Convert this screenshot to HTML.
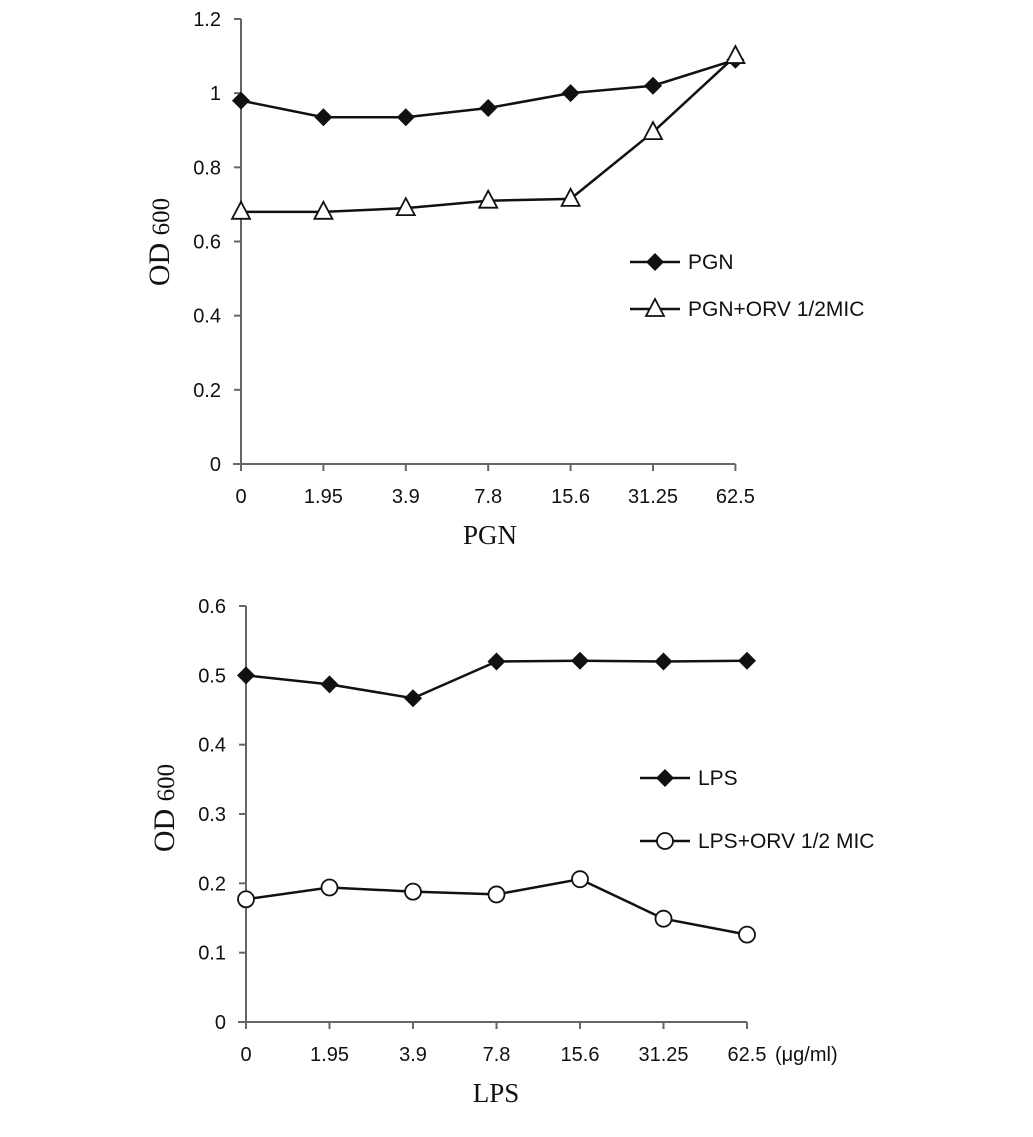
<!DOCTYPE html>
<html><head><meta charset="utf-8"><style>
body{margin:0;background:#fff}
svg text{font-family:"Liberation Sans",sans-serif;fill:#111}
.serif{font-family:"Liberation Serif",serif !important}
</style></head><body>
<svg id="c" width="1033" height="1132" xmlns="http://www.w3.org/2000/svg"></svg>
<script>
const categories=["0","1.95","3.9","7.8","15.6","31.25","62.5"];
const pgnValues=[0.98,0.935,0.935,0.96,1.0,1.02,1.09];
const pgnOrvValues=[0.68,0.68,0.69,0.71,0.715,0.895,1.10];
const topTicks=["0","0.2","0.4","0.6","0.8","1","1.2"];
const lpsValues=[0.50,0.487,0.467,0.52,0.521,0.52,0.521];
const lpsOrvValues=[0.177,0.194,0.188,0.184,0.206,0.149,0.126];
const botTicks=["0","0.1","0.2","0.3","0.4","0.5","0.6"];
const svg=document.getElementById('c');
const NS="http://www.w3.org/2000/svg";
function mk(t,a,p){const e=document.createElementNS(NS,t);for(const k in a)e.setAttribute(k,a[k]);(p||svg).appendChild(e);return e;}
function panel(cfg){
  const g=mk('g',{});
  
  
  const xs=i=>cfg.x0+i*cfg.dx;
  const ys=v=>cfg.y0-(v/cfg.ymax)*(cfg.y0-cfg.ytop);
  mk('line',{x1:cfg.x0,y1:cfg.ytop,x2:cfg.x0,y2:cfg.y0,stroke:'#666','stroke-width':2},g);
  mk('line',{x1:cfg.x0-8,y1:cfg.y0,x2:xs(categories.length-1),y2:cfg.y0,stroke:'#666','stroke-width':2},g);
  cfg.ticks.forEach(t=>{const y=ys(parseFloat(t));
    mk('line',{x1:cfg.x0-7,y1:y,x2:cfg.x0,y2:y,stroke:'#666','stroke-width':2},g);
    const tx=mk('text',{x:cfg.x0-20,y:y+7,'text-anchor':'end','font-size':20},g);tx.textContent=t;
    
    });
  categories.forEach((c,i)=>{const x=xs(i);
    mk('line',{x1:x,y1:cfg.y0,x2:x,y2:cfg.y0+7,stroke:'#666','stroke-width':2},g);
    const tx=mk('text',{x:x,y:cfg.y0+39,'text-anchor':'middle','font-size':20},g);tx.textContent=c;
    
    });
  cfg.series.forEach(s=>{
    const pts=s.vals.map((v,i)=>xs(i)+','+ys(v)).join(' ');
    const pl=mk('polyline',{points:pts,fill:'none',stroke:'#111','stroke-width':2.5},g);
    
    
    s.vals.forEach((v,i)=>{marker(s.m,xs(i),ys(v),g,s.name);});
  });
  cfg.legend.forEach((l,k)=>{const y=cfg.ly+k*cfg.lgap;
    mk('line',{x1:cfg.lx,y1:y,x2:cfg.lx+50,y2:y,stroke:'#111','stroke-width':2.5},g);
    marker(l.m,cfg.lx+25,y,g,'legend');
    const tx=mk('text',{x:cfg.lx+58,y:y+7,'font-size':21},g);tx.textContent=l.t;
    
    });
  const yt=mk('text',{transform:`translate(${cfg.x0-72},${cfg.ymid}) rotate(-90)`,'text-anchor':'middle','font-size':30,class:'serif'},g);
  yt.innerHTML='OD <tspan font-size="25">600</tspan>';
  
  
  const xt=mk('text',{x:cfg.xtx,y:cfg.y0+80,'text-anchor':'middle','font-size':27,class:'serif'},g);xt.textContent=cfg.xtitle;
  
  
  return g;
}
function marker(m,x,y,g,n){let e;
  if(m==='d')e=mk('polygon',{points:`${x},${y-9} ${x+9},${y} ${x},${y+9} ${x-9},${y}`,fill:'#111'},g);
  else if(m==='t')e=mk('polygon',{points:`${x},${y-10} ${x+9},${y+7} ${x-9},${y+7}`,fill:'#fff',stroke:'#111','stroke-width':1.8},g);
  else e=mk('circle',{cx:x,cy:y,r:8,fill:'#fff',stroke:'#111','stroke-width':1.8},g);
  
  }
panel({name:'pgn-chart',x0:241,dx:82.4,y0:464,ytop:19,ymax:1.2,ticks:topTicks,ymid:242,xtitle:'PGN',xtx:490,
  series:[{name:'pgn',vals:pgnValues,m:'d'},{name:'pgn-orv',vals:pgnOrvValues,m:'t'}],
  legend:[{m:'d',t:'PGN'},{m:'t',t:'PGN+ORV 1/2MIC'}],lx:630,ly:262,lgap:47});
panel({name:'lps-chart',x0:246,dx:83.5,y0:1022,ytop:606,ymax:0.6,ticks:botTicks,ymid:808,xtitle:'LPS',xtx:496,
  series:[{name:'lps',vals:lpsValues,m:'d'},{name:'lps-orv',vals:lpsOrvValues,m:'c'}],
  legend:[{m:'d',t:'LPS'},{m:'c',t:'LPS+ORV 1/2 MIC'}],lx:640,ly:778,lgap:63});
const u=mk('text',{x:775,y:1061,'font-size':20});u.textContent='(μg/ml)';


</script>
</body></html>
